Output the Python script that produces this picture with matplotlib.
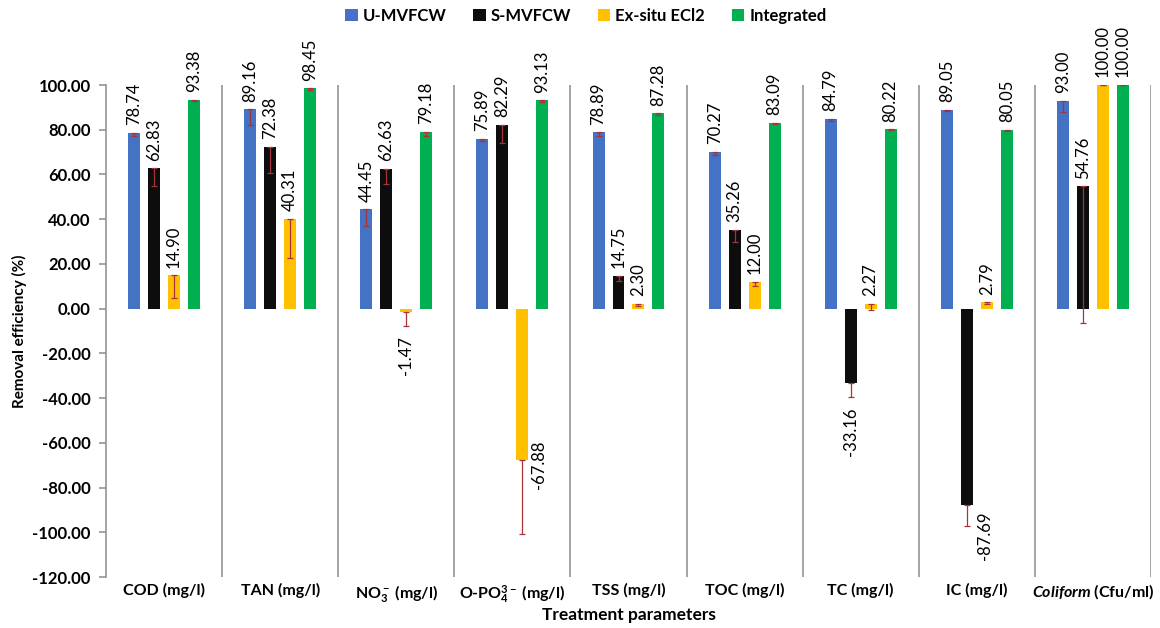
import matplotlib
matplotlib.use('Agg')  # Non-GUI backend for Matplotlib

from matplotlib import pyplot as plt
from matplotlib.patches import Patch
import numpy as np

plt.rcParams['font.family'] = ['Lato', 'DejaVu Sans']
plt.rcParams['mathtext.fontset'] = 'custom'
plt.rcParams['mathtext.rm'] = 'Lato:bold'
plt.rcParams['mathtext.it'] = 'Lato:italic:bold'
plt.rcParams['mathtext.bf'] = 'Lato:bold'
plt.rcParams['mathtext.default'] = 'regular'

# Data (removal efficiency, %)
categories = ['COD (mg/l)', 'TAN (mg/l)', r'NO$_3^-$ (mg/l)', r'O-PO$_4^{3-}$ (mg/l)',
              'TSS (mg/l)', 'TOC (mg/l)', 'TC (mg/l)', 'IC (mg/l)',
              r'$\it{Coliform}$ (Cfu/ml)']
series_names = ['U-MVFCW', 'S-MVFCW', 'Ex-situ ECl2', 'Integrated']
u_mvfcw = [78.74, 89.16, 44.45, 75.89, 78.89, 70.27, 84.79, 89.05, 93.00]
s_mvfcw = [62.83, 72.38, 62.63, 82.29, 14.75, 35.26, -33.16, -87.69, 54.76]
ex_situ = [14.90, 40.31, -1.47, -67.88, 2.30, 12.00, 2.27, 2.79, 100.00]
integrated = [93.38, 98.45, 79.18, 93.13, 87.28, 83.09, 80.22, 80.05, 100.00]
# error bars (minus direction only, as in the original)
u_err = [1.5, 7.0, 7.5, 1.0, 1.5, 1.5, 0.8, 0.6, 5.0]
s_err = [8.0, 11.5, 7.0, 8.0, 2.5, 5.5, 6.5, 9.6, 61.0]
e_err = [10.0, 17.5, 6.5, 32.7, 1.0, 2.0, 3.0, 0.8, 0.0]
g_err = [0.5, 0.5, 2.0, 0.5, 0.5, 0.5, 0.5, 0.5, 0.0]

colors = ['#4472C4', '#0D0D0D', '#FFC000', '#00B050']
err_color = '#A8323A'
grey = '#8C8C8C'

fig = plt.figure(figsize=(11.6, 6.28), dpi=100)
ax = fig.add_axes([0.0914, 0.0812, 0.9008, 0.7834])

x = np.arange(len(categories))
width = 0.103
pitch = 0.172
offsets = [-1.5 * pitch, -0.5 * pitch, 0.5 * pitch, 1.5 * pitch]
all_vals = [u_mvfcw, s_mvfcw, ex_situ, integrated]
all_errs = [u_err, s_err, e_err, g_err]

# labels that were moved by hand in the original (series, category) -> (dx, dy) px
moved = {(2, 3): (17, 20), (1, 7): (18, -7)}

for k, (vals, errs) in enumerate(zip(all_vals, all_errs)):
    xs = x + offsets[k]
    ax.bar(xs, vals, width, color=colors[k], zorder=2)
    ax.errorbar(xs, vals, yerr=[errs, np.zeros(len(errs))], fmt='none',
                ecolor=err_color, elinewidth=0.9, capsize=2.5, capthick=0.9, zorder=3)
    for i, (xi, v, e) in enumerate(zip(xs, vals, errs)):
        lab = f'{v:.2f}'
        if (k, i) in moved:
            dx, dy = moved[(k, i)]
            ax.annotate(lab, (xi, v), xytext=(dx * 0.72, dy * 0.72), textcoords='offset points',
                        rotation=90, ha='center', va='top', fontsize=12, annotation_clip=False)
        elif v >= 0:
            ax.annotate(lab, (xi, v), xytext=(0, 5.5), textcoords='offset points',
                        rotation=90, ha='center', va='bottom', fontsize=12, annotation_clip=False)
        else:
            ax.annotate(lab, (xi, v - e), xytext=(0, -7), textcoords='offset points',
                        rotation=90, ha='center', va='top', fontsize=12, annotation_clip=False)

# category separators
for i in range(1, len(categories) + 1):
    ax.axvline(i - 0.5, color=grey, lw=1.1, zorder=1)

ax.set_xlim(-0.5, len(categories) - 0.5)
ax.set_ylim(-120, 100)
ax.set_yticks(np.arange(-120, 101, 20))
ax.set_yticklabels([f'{t:.2f}' for t in np.arange(-120, 101, 20)], fontweight='bold', fontsize=12)
ax.set_xticks(x)
ax.set_xticklabels(categories, fontweight='bold', fontsize=11.5)
ax.tick_params(axis='x', length=0, pad=4)
ax.tick_params(axis='y', length=5, color=grey, width=1.1, pad=6)

for side in ['top', 'right', 'bottom']:
    ax.spines[side].set_visible(False)
ax.spines['left'].set_color(grey)
ax.spines['left'].set_linewidth(1.1)

ax.set_ylabel('Removal efficiency (%)', fontweight='bold', fontsize=11, labelpad=4)
ax.set_xlabel('Treatment parameters', fontweight='bold', fontsize=12.5, labelpad=2)

handles = [Patch(facecolor=c) for c in colors]
fig.legend(handles, series_names, loc='center', bbox_to_anchor=(0.505, 0.975), ncol=4,
           frameon=False, prop={'weight': 'bold', 'size': 12}, handlelength=0.75,
           handleheight=0.75, handletextpad=0.3, columnspacing=1.6)

fig.savefig('out.png', dpi=100)
plt.close()
